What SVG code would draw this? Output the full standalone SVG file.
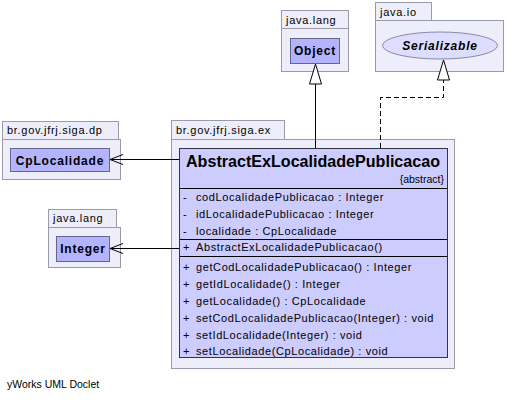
<svg xmlns="http://www.w3.org/2000/svg" width="513" height="404" viewBox="0 0 513 404">
<style>
.pkg{fill:#eeeefa;stroke:#9a9aad;stroke-width:1}
.cls{fill:#ccccff;stroke:#333344;stroke-width:1}
.ref{fill:#b3b3ff;stroke:#666688;stroke-width:1}
.t{font-family:"Liberation Sans",Arial,sans-serif;font-size:11px;fill:#000;letter-spacing:0.6px}
.p{font-family:"Liberation Sans",Arial,sans-serif;font-size:11px;fill:#000;letter-spacing:0.7px}
.b{font-family:"Liberation Sans",Arial,sans-serif;font-size:12px;font-weight:bold;fill:#000;text-anchor:middle;letter-spacing:0.8px}
.title{font-family:"Liberation Sans",Arial,sans-serif;font-size:16px;font-weight:bold;fill:#000;text-anchor:middle}
.ln{stroke:#000;stroke-width:1;fill:none}
.sep{stroke:#000;stroke-width:1}
</style>
<rect width="513" height="404" fill="#fff"/>
<g id="pkg-java-lang-object">
<rect class="pkg" x="281.5" y="10.5" width="67" height="18"/>
<rect class="pkg" x="281.5" y="28.5" width="67" height="43"/>
<text class="p" x="286" y="24">java.lang</text>
</g>
<g id="Object">
<rect class="ref" x="290.5" y="38.5" width="49" height="25"/>
<text class="b" x="315" y="55">Object</text>
</g>
<g id="pkg-java-io">
<rect class="pkg" x="375.5" y="2.5" width="56" height="18"/>
<rect class="pkg" x="375.5" y="20.5" width="128" height="51"/>
<text class="p" x="380" y="16">java.io</text>
</g>
<g id="Serializable">
<ellipse cx="440" cy="45.5" rx="57.5" ry="13.5" fill="#ddddff" stroke="#8888aa"/>
<text class="b" x="440" y="50" font-style="italic">Serializable</text>
</g>
<g id="pkg-dp">
<rect class="pkg" x="2.5" y="121.5" width="116" height="18"/>
<rect class="pkg" x="2.5" y="139.5" width="118" height="40"/>
<text class="p" x="7" y="134">br.gov.jfrj.siga.dp</text>
</g>
<g id="CpLocalidade">
<rect class="ref" x="10.5" y="148.5" width="99" height="23"/>
<text class="b" x="60" y="165">CpLocalidade</text>
</g>
<g id="pkg-java-lang-integer">
<rect class="pkg" x="48.5" y="209.5" width="68" height="18"/>
<rect class="pkg" x="48.5" y="227.5" width="72" height="40"/>
<text class="p" x="53" y="222">java.lang</text>
</g>
<g id="Integer">
<rect class="ref" x="56.5" y="236.5" width="53" height="25"/>
<text class="b" x="83" y="253">Integer</text>
</g>
<g id="pkg-ex">
<rect class="pkg" x="171.5" y="120.5" width="113" height="19"/>
<rect class="pkg" x="171.5" y="139.5" width="283" height="229"/>
<text class="p" x="176" y="134">br.gov.jfrj.siga.ex</text>
</g>
<g id="AbstractExLocalidadePublicacao">
<rect class="cls" x="179.5" y="148.5" width="268" height="209"/>
<text class="title" x="313" y="167" textLength="254" lengthAdjust="spacingAndGlyphs">AbstractExLocalidadePublicacao</text>
<text class="t" x="444" y="183" text-anchor="end" style="letter-spacing:0;font-size:10.5px">{abstract}</text>
<line class="sep" x1="180" y1="188.5" x2="447" y2="188.5"/>
<text class="t" x="183" y="201">-</text>
<text class="t" x="196" y="201">codLocalidadePublicacao : Integer</text>
<text class="t" x="183" y="218">-</text>
<text class="t" x="196" y="218">idLocalidadePublicacao : Integer</text>
<text class="t" x="183" y="235">-</text>
<text class="t" x="196" y="235">localidade : CpLocalidade</text>
<line class="sep" x1="180" y1="239.5" x2="447" y2="239.5"/>
<text class="t" x="183" y="251">+</text>
<text class="t" x="196" y="251">AbstractExLocalidadePublicacao()</text>
<line class="sep" x1="180" y1="256.5" x2="447" y2="256.5"/>
<text class="t" x="183" y="271">+</text>
<text class="t" x="196" y="271">getCodLocalidadePublicacao() : Integer</text>
<text class="t" x="183" y="288">+</text>
<text class="t" x="196" y="288">getIdLocalidade() : Integer</text>
<text class="t" x="183" y="305">+</text>
<text class="t" x="196" y="305">getLocalidade() : CpLocalidade</text>
<text class="t" x="183" y="322">+</text>
<text class="t" x="196" y="322">setCodLocalidadePublicacao(Integer) : void</text>
<text class="t" x="183" y="339">+</text>
<text class="t" x="196" y="339">setIdLocalidade(Integer) : void</text>
<text class="t" x="183" y="355">+</text>
<text class="t" x="196" y="355">setLocalidade(CpLocalidade) : void</text>
</g>
<g id="connectors">
<line class="ln" x1="315.5" y1="148" x2="315.5" y2="84"/>
<polygon points="315.5,64 309.5,84 321.5,84" fill="#fff" stroke="#000"/>
<polyline class="ln" points="380.5,148 380.5,97.5 443.5,97.5 443.5,80" stroke-dasharray="5,3"/>
<polygon points="443.5,60 437.5,80 449.5,80" fill="#fff" stroke="#000"/>
<line class="ln" x1="179" y1="159.5" x2="110" y2="159.5"/>
<polyline class="ln" points="123,154.5 110,159.5 123,164.5"/>
<line class="ln" x1="179" y1="248.5" x2="110" y2="248.5"/>
<polyline class="ln" points="123,243.5 110,248.5 123,253.5"/>
</g>
<text class="t" x="7" y="388" style="letter-spacing:0;font-size:10.5px">yWorks UML Doclet</text>
</svg>
